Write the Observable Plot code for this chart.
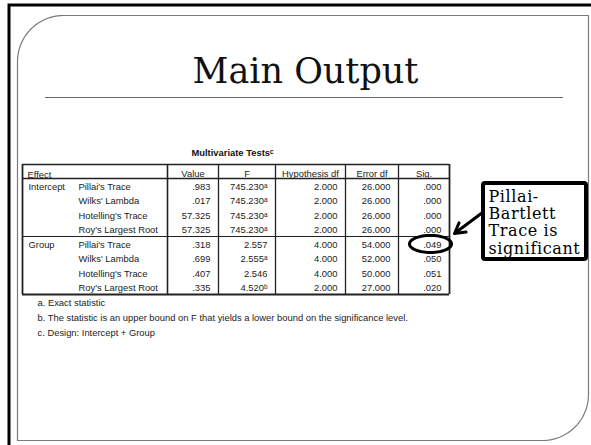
<!DOCTYPE html>
<html><head><meta charset="utf-8">
<script src="https://cdn.jsdelivr.net/npm/d3@7"></script>
<script src="https://cdn.jsdelivr.net/npm/@observablehq/plot@0.6"></script>
<style>
html,body{margin:0;padding:0;background:#fff;overflow:hidden}
svg{display:block;overflow:hidden}
g[font-size="16"][font-family="DejaVu Serif"]{letter-spacing:0.6px}
</style>
</head><body><div id="chart"></div>
<script>
// ---- data ----
const title = "Main Output";
const tableTitle = "Multivariate Tests";
const tableTitleNote = "c";
const columns = ["Value", "F", "Hypothesis df", "Error df", "Sig."];
const effects = ["Intercept", "Group"];
const tests = ["Pillai's Trace", "Wilks' Lambda", "Hotelling's Trace", "Roy's Largest Root"];
const values = [".983", ".017", "57.325", "57.325", ".318", ".699", ".407", ".335"];
const fValues = ["745.230", "745.230", "745.230", "745.230", "2.557", "2.555", "2.546", "4.520"];
const fNotes = ["a", "a", "a", "a", "", "a", "", "b"];
const hypDf = ["2.000", "2.000", "2.000", "2.000", "4.000", "4.000", "4.000", "2.000"];
const errorDf = ["26.000", "26.000", "26.000", "26.000", "54.000", "52.000", "50.000", "27.000"];
const sig = [".000", ".000", ".000", ".000", ".049", ".050", ".051", ".020"];
const footnotes = [
  "a. Exact statistic",
  "b. The statistic is an upper bound on F that yields a lower bound on the significance level.",
  "c. Design: Intercept + Group"
];
const callout = ["Pillai-", "Bartlett", "Trace is", "significant"];
const highlightRow = 4;

// ---- layout ----
const W = 591, H = 445;
const sup = {a: "\u1d43", b: "\u1d47", c: "\u1d9c", "": ""};
const colEdges = [22, 167, 218, 275, 345, 398, 449];
const tableTop = 164, headerBottom = 178, tableBottom = 294;
const nRows = values.length;
const rowH = (tableBottom - headerBottom) / nRows;
const rowY = k => headerBottom + rowH * (k + 0.5) + 1.2;
const groupSep = headerBottom + rowH * tests.length;
const headerY = 173;
const sansFont = "Liberation Sans, Arial, sans-serif";
const serifFont = "DejaVu Serif";
const fs = 9.4;

// cells
const cells = [];
for (let k = 0; k < nRows; ++k) {
  const cols = [values[k], fValues[k] + sup[fNotes[k]], hypDf[k], errorDf[k], sig[k]];
  cols.forEach((t, j) => cells.push({x: colEdges[j + 2] - 8, y: rowY(k), text: t}));
}
const labels = [];
for (let k = 0; k < nRows; ++k) {
  const ti = k % tests.length;
  if (ti === 0) labels.push({x: 28, y: rowY(k), text: effects[Math.floor(k / tests.length)]});
  labels.push({x: 78, y: rowY(k), text: tests[ti]});
}
const headers = columns.map((c, j) => ({x: (colEdges[j + 1] + colEdges[j + 2]) / 2, y: headerY, text: c}));

// frames
function arc(cx, cy, r, a0, a1, n = 24) {
  return d3.range(n + 1).map(i => {
    const a = a0 + (a1 - a0) * i / n;
    return {x: cx + r * Math.cos(a), y: cy + r * Math.sin(a)};
  });
}
const fl = 17, ft = 15, fr = 588, fb = 440, fR = 46;
const framePts = [
  {x: fl + fR, y: ft}, {x: fr, y: ft}, {x: fr, y: fb - fR},
  ...arc(fr - fR, fb - fR, fR, 0, Math.PI / 2),
  {x: fl, y: fb}, {x: fl, y: ft + fR},
  ...arc(fl + fR, ft + fR, fR, Math.PI, 1.5 * Math.PI)
];

// highlight ellipse around the significant cell
const ex = colEdges[6] - 19, ey = rowY(highlightRow) - 1;
const ellipse = d3.range(65).map(i => {
  const a = 2 * Math.PI * i / 64;
  return {x: ex + 21 * Math.cos(a), y: ey + 8.5 * Math.sin(a)};
});

const box = {x1: 483, y1: 183, x2: 586, y2: 259};
const calloutLines = callout.map((t, i) => ({x: box.x1 + 5, y: 196 + i * 17.3, text: t}));

const lineRows = [
  {y: tableTop, w: 1.6},
  {y: headerBottom, w: 1.3},
  {y: groupSep, w: 1},
  {y: tableBottom, w: 1.8}
];
const lineCols = [
  {x: colEdges[0], w: 1.8}, {x: colEdges[1], w: 1.6}, {x: colEdges[2], w: 1.3}, {x: colEdges[3], w: 1.3},
  {x: colEdges[4], w: 1.3}, {x: colEdges[5], w: 1.3}, {x: colEdges[6], w: 1.8}
];

const chart = Plot.plot({
  width: W, height: H, margin: 0,
  x: {domain: [0, W], range: [0, W], axis: null},
  y: {domain: [0, H], range: [0, H], axis: null},
  marks: [
    Plot.rect([{x1: 9, y1: 5, x2: W + 10, y2: H + 10}], {x1: "x1", y1: "y1", x2: "x2", y2: "y2", fill: "none", stroke: "#000", strokeWidth: 3}),
    Plot.line(framePts, {x: "x", y: "y", stroke: "#7a7a7a", strokeWidth: 1.2, curve: "linear"}),
    Plot.text([title], {x: 305, y: 71.5, text: d => d, fontFamily: serifFont, fontSize: 35, fill: "#111"}),
    Plot.ruleY([97], {x1: 45, x2: 563, stroke: "#666", strokeWidth: 1}),
    Plot.text([tableTitle + sup[tableTitleNote]], {x: 232, y: 152, text: d => d, fontFamily: sansFont, fontSize: fs, fontWeight: "bold", fill: "#111"}),
    // table grid
    ...lineRows.map(r => Plot.ruleY([r.y], {x1: colEdges[0], x2: colEdges[6], stroke: "#222", strokeWidth: r.w})),
    ...lineCols.map(c => Plot.ruleX([c.x], {y1: tableTop, y2: tableBottom, stroke: "#222", strokeWidth: c.w})),
    // header
    Plot.text([{x: 27, y: headerY + 1, text: "Effect"}], {x: "x", y: "y", text: "text", textAnchor: "start", fontFamily: sansFont, fontSize: fs, fill: "#222"}),
    Plot.text(headers, {x: "x", y: "y", text: "text", fontFamily: sansFont, fontSize: fs, fill: "#222"}),
    Plot.text(labels, {x: "x", y: "y", text: "text", textAnchor: "start", fontFamily: sansFont, fontSize: fs, fill: "#222"}),
    Plot.text(cells, {x: "x", y: "y", text: "text", textAnchor: "end", fontFamily: sansFont, fontSize: fs, fill: "#222"}),
    Plot.text(footnotes.map((t, i) => ({x: 37, y: 302.5 + i * 15, text: t})), {x: "x", y: "y", text: "text", textAnchor: "start", fontFamily: sansFont, fontSize: fs, fill: "#222"}),
    // callout
    Plot.line(ellipse, {x: "x", y: "y", stroke: "#000", strokeWidth: 3}),
    Plot.arrow([{x1: 482, y1: 212, x2: 454, y2: 233}], {x1: "x1", y1: "y1", x2: "x2", y2: "y2", stroke: "#000", strokeWidth: 3, headLength: 16, bend: 0}),
    Plot.rect([box], {x1: "x1", y1: "y1", x2: "x2", y2: "y2", fill: "#fff", stroke: "#000", strokeWidth: 4, rx: 2}),
    Plot.text(calloutLines, {x: "x", y: "y", text: "text", textAnchor: "start", fontFamily: serifFont, fontSize: 16, fill: "#000"})
  ]
});
document.getElementById("chart").appendChild(chart);
</script>
</body></html>
